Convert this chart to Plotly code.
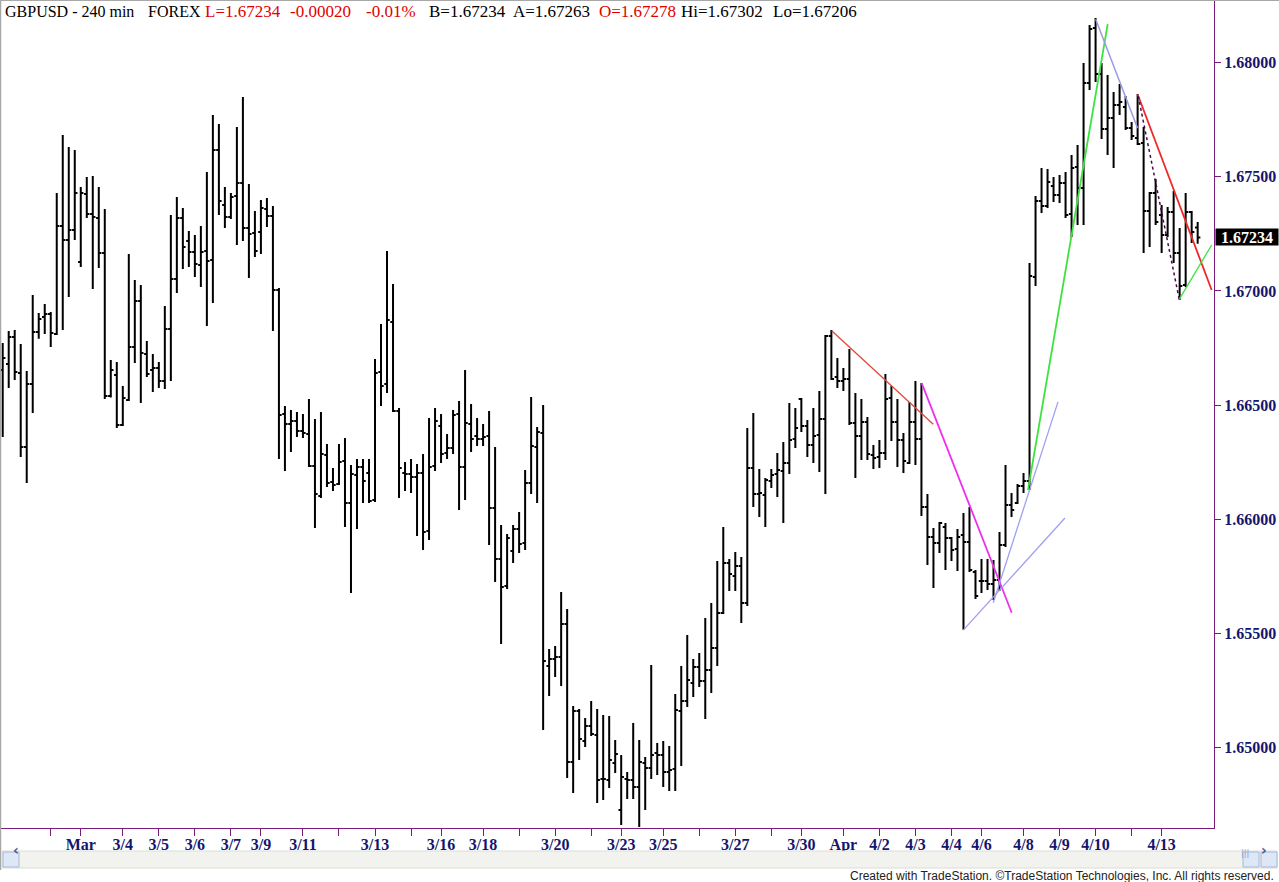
import plotly.graph_objects as go

# ---------------- data (GBPUSD 240-min bars) ----------------
open_ = [1.66654,1.66680,1.66798,1.66641,1.66317,1.66592,1.66820,1.66886,1.66899,1.66811,
 1.67284,1.67223,1.67267,1.67127,1.67424,1.67337,1.67319,1.67166,1.66540,1.66632,
 1.66413,1.66522,1.66754,1.66956,1.66724,1.66654,1.66663,1.66606,1.66833,1.67052,
 1.67319,1.67218,1.67170,1.67113,1.67175,1.67135,1.67617,1.67376,1.67324,1.67415,
 1.67472,1.67275,1.67254,1.67258,1.67359,1.67328,1.67004,1.66461,1.66417,1.66431,
 1.66387,1.66374,1.66233,1.66102,1.66282,1.66163,1.66155,1.66255,1.66072,1.66194,
 1.66229,1.66203,1.66085,1.66645,1.66592,1.66864,1.66474,1.66203,1.66198,1.66185,
 1.66203,1.65949,1.66233,1.66409,1.66290,1.66312,1.66461,1.66229,1.66417,1.66365,
 1.66352,1.66365,1.66050,1.65826,1.65708,1.65861,1.65958,1.65896,1.66159,1.66317,
 1.66378,1.65358,1.65388,1.65397,1.65542,1.64938,1.65161,1.65030,1.65095,1.65056,
 1.64863,1.64859,1.64933,1.64727,1.64863,1.64859,1.64828,1.64933,1.64911,1.64977,
 1.64968,1.64894,1.64907,1.65161,1.65205,1.65283,1.65353,1.65292,1.65340,1.65437,
 1.65590,1.65809,1.65752,1.65796,1.65634,1.66225,1.66111,1.66107,1.66168,1.66198,
 1.66212,1.66247,1.66352,1.66527,1.66409,1.66325,1.66369,1.66439,1.66803,1.66623,
 1.66606,1.66614,1.66422,1.66365,1.66426,1.66282,1.66273,1.66290,1.66531,1.66426,
 1.66347,1.66247,1.66426,1.66352,1.66054,1.65923,1.65896,1.65966,1.65918,1.65870,
 1.65931,1.65901,1.65769,1.65730,1.65730,1.65717,1.65734,1.65888,1.66063,1.66072,
 1.66146,1.66168,1.67061,1.67394,1.67372,1.67459,1.67420,1.67472,1.67337,1.67542,
 1.67451,1.67910,1.68151,1.67950,1.67709,1.67757,1.67814,1.67805,1.67713,1.67669,
 1.67648,1.67350,1.67429,1.67332,1.67245,1.67346,1.67166,1.67026,1.67346,1.67278]

high = [1.66772,1.66825,1.66829,1.66768,1.66649,1.66982,1.66903,1.66943,1.66908,1.67429,
 1.67683,1.67630,1.67617,1.67455,1.67499,1.67503,1.67455,1.67359,1.66698,1.66689,
 1.66584,1.67162,1.67048,1.67026,1.66781,1.66724,1.66689,1.66934,1.67332,1.67411,
 1.67363,1.67262,1.67245,1.67284,1.67521,1.67770,1.67731,1.67455,1.67429,1.67718,
 1.67849,1.67468,1.67350,1.67398,1.67407,1.67372,1.67013,1.66496,1.66479,1.66470,
 1.66461,1.66527,1.66439,1.66470,1.66330,1.66225,1.66330,1.66356,1.66238,1.66264,
 1.66264,1.66264,1.66702,1.66855,1.67175,1.67030,1.66487,1.66251,1.66264,1.66242,
 1.66286,1.66444,1.66487,1.66461,1.66374,1.66479,1.66518,1.66654,1.66505,1.66444,
 1.66417,1.66474,1.66317,1.65975,1.65936,1.65975,1.66032,1.66216,1.66535,1.66404,
 1.66500,1.65432,1.65445,1.65682,1.65607,1.65183,1.65170,1.65130,1.65205,1.65170,
 1.65143,1.65139,1.65034,1.64968,1.64894,1.65108,1.65034,1.64959,1.65362,1.65021,
 1.65030,1.65008,1.65235,1.65358,1.65494,1.65388,1.65415,1.65568,1.65634,1.65818,
 1.65966,1.65826,1.65857,1.65835,1.66400,1.66466,1.66220,1.66181,1.66220,1.66290,
 1.66338,1.66509,1.66487,1.66531,1.66435,1.66487,1.66562,1.66807,1.66829,1.66706,
 1.66663,1.66746,1.66553,1.66527,1.66448,1.66325,1.66347,1.66636,1.66584,1.66527,
 1.66378,1.66514,1.66606,1.66597,1.66111,1.65962,1.65988,1.65984,1.65923,1.65958,
 1.66028,1.66054,1.65778,1.65826,1.65826,1.65822,1.65944,1.66238,1.66115,1.66155,
 1.66203,1.67122,1.67415,1.67538,1.67534,1.67499,1.67507,1.67521,1.67595,1.67639,
 1.67998,1.68164,1.68195,1.67998,1.67945,1.67871,1.67906,1.67853,1.67739,1.67862,
 1.67718,1.67433,1.67490,1.67376,1.67367,1.67437,1.67275,1.67429,1.67350,1.67302]

low = [1.66360,1.66575,1.66610,1.66273,1.66159,1.66466,1.66790,1.66811,1.66754,1.66807,
 1.66829,1.66973,1.67223,1.67105,1.67319,1.67008,1.67100,1.66527,1.66533,1.66400,
 1.66409,1.66518,1.66684,1.66509,1.66623,1.66557,1.66575,1.66571,1.66606,1.66991,
 1.67096,1.67105,1.67061,1.67017,1.66846,1.66947,1.67332,1.67275,1.67315,1.67201,
 1.67218,1.67057,1.67148,1.67162,1.67280,1.66825,1.66264,1.66212,1.66295,1.66360,
 1.66356,1.66229,1.65962,1.66093,1.66142,1.66124,1.66150,1.65966,1.65677,1.65958,
 1.66072,1.66072,1.66076,1.66496,1.66553,1.66470,1.66093,1.66124,1.66115,1.65927,
 1.65866,1.65909,1.66212,1.66247,1.66264,1.66286,1.66041,1.66085,1.66295,1.66321,
 1.66321,1.65888,1.65726,1.65454,1.65695,1.65809,1.65853,1.65866,1.66111,1.66072,
 1.65078,1.65227,1.65310,1.65270,1.64868,1.64802,1.64946,1.65003,1.65051,1.64758,
 1.64771,1.64824,1.64889,1.64662,1.64776,1.64776,1.64653,1.64727,1.64863,1.64881,
 1.64828,1.64811,1.64811,1.64920,1.65178,1.65222,1.65266,1.65126,1.65240,1.65358,
 1.65586,1.65686,1.65686,1.65546,1.65621,1.66054,1.66010,1.65966,1.66137,1.66098,
 1.65984,1.66198,1.66312,1.66382,1.66273,1.66247,1.66207,1.66111,1.66610,1.66575,
 1.66562,1.66413,1.66181,1.66260,1.66260,1.66220,1.66225,1.66260,1.66343,1.66229,
 1.66203,1.66242,1.66238,1.66015,1.65800,1.65699,1.65853,1.65778,1.65818,1.65774,
 1.65516,1.65769,1.65651,1.65677,1.65691,1.65647,1.65686,1.65879,1.66010,1.66067,
 1.66115,1.66128,1.67022,1.67341,1.67363,1.67389,1.67385,1.67319,1.67236,1.67289,
 1.67289,1.67880,1.67915,1.67665,1.67595,1.67538,1.67770,1.67704,1.67661,1.67639,
 1.67166,1.67192,1.67289,1.67166,1.67236,1.67122,1.66960,1.67017,1.67210,1.67206]

close = [1.66706,1.66798,1.66645,1.66317,1.66592,1.66820,1.66877,1.66899,1.66816,1.67284,
 1.67223,1.67267,1.67429,1.67429,1.67337,1.67324,1.67166,1.66540,1.66654,1.66413,
 1.66531,1.66754,1.66956,1.66728,1.66636,1.66663,1.66606,1.66833,1.67052,1.67319,
 1.67192,1.67170,1.67118,1.67170,1.67131,1.67617,1.67394,1.67324,1.67411,1.67472,
 1.67275,1.67249,1.67175,1.67363,1.67328,1.67004,1.66457,1.66417,1.66431,1.66387,
 1.66378,1.66233,1.66111,1.66286,1.66159,1.66150,1.66251,1.66072,1.66198,1.66229,
 1.66168,1.66080,1.66641,1.66584,1.66873,1.66474,1.66225,1.66198,1.66185,1.66203,
 1.65944,1.66229,1.66431,1.66286,1.66312,1.66457,1.66229,1.66422,1.66352,1.66352,
 1.66360,1.66050,1.65826,1.65704,1.65918,1.65958,1.65892,1.66159,1.66321,1.66382,
 1.65380,1.65388,1.65397,1.65542,1.64938,1.65161,1.65038,1.65095,1.65060,1.64859,
 1.64863,1.64946,1.64973,1.64872,1.64859,1.64828,1.64938,1.64911,1.64968,1.64968,
 1.64894,1.64903,1.65165,1.65205,1.65297,1.65353,1.65292,1.65340,1.65437,1.65590,
 1.65809,1.65761,1.65796,1.65634,1.66225,1.66111,1.66115,1.66172,1.66194,1.66216,
 1.66247,1.66347,1.66400,1.66409,1.66325,1.66365,1.66439,1.66803,1.66614,1.66606,
 1.66614,1.66422,1.66365,1.66426,1.66286,1.66268,1.66290,1.66527,1.66426,1.66347,
 1.66255,1.66426,1.66352,1.66054,1.65923,1.65896,1.65984,1.65918,1.65866,1.65923,
 1.65901,1.65778,1.65664,1.65730,1.65717,1.65734,1.65888,1.66063,1.66041,1.66146,
 1.66168,1.67065,1.67394,1.67372,1.67477,1.67420,1.67472,1.67332,1.67538,1.67451,
 1.67910,1.68147,1.67950,1.67709,1.67757,1.67814,1.67827,1.67713,1.67678,1.67643,
 1.67350,1.67429,1.67302,1.67245,1.67346,1.67166,1.67022,1.67346,1.67258,1.67234]

bar_index = list(range(len(close)))

date_tick_bars = [8, 13, 20, 26, 32, 38, 43, 50, 56, 62, 68, 73, 80, 86, 92, 98, 103,
                  110, 116, 122, 128, 133, 140, 146, 152, 158, 163, 170, 176, 182, 188, 193]
date_tick_labels = ["", "Mar", "3/4", "3/5", "3/6", "3/7", "3/9", "3/11", "", "3/13", "",
                    "3/16", "3/18", "", "3/20", "", "3/23", "3/25", "", "3/27", "", "3/30",
                    "Apr", "4/2", "4/3", "4/4", "4/6", "4/8", "4/9", "4/10", "", "4/13"]

price_ticks = [1.650, 1.655, 1.660, 1.665, 1.670, 1.675, 1.680]
price_tick_labels = ["1.65000", "1.65500", "1.66000", "1.66500", "1.67000", "1.67500", "1.68000"]
last_price = 1.67234
last_price_label = "1.67234"

# hand-drawn trendlines (bar index, price)
trend_x0 = [138.05, 153.04, 159.97, 164.96, 170.74, 182.02, 189.00, 189.10, 195.93]
trend_y0 = [1.66826, 1.66596, 1.65515, 1.65635, 1.66128, 1.68189, 1.67861, 1.67853, 1.66963]
trend_x1 = [154.97, 168.03, 176.90, 175.74, 184.02, 189.00, 201.33, 195.93, 201.33]
trend_y1 = [1.66416, 1.65591, 1.66006, 1.66514, 1.68168, 1.67712, 1.67004, 1.66963, 1.67201]
trend_color = ["#e2483a", "#ee30ee", "#a0a0f0", "#a0a0f0", "#3ee23e",
               "#9a9ae6", "#f02828", "#4a0a4a", "#3ee23e"]
trend_dash = ["solid", "solid", "solid", "solid", "solid", "solid", "solid", "dot", "solid"]
trend_width = [1.3, 1.8, 1.3, 1.3, 1.8, 1.5, 1.8, 1.5, 1.3]

# header: text, colour, left pixel, font size
header_parts = [("GBPUSD - 240 min", "#000000", 2.8, 16), ("FOREX", "#000000", 145.5, 16),
                ("L=1.67234", "#e00000", 202.8, 17), ("-0.00020", "#e00000", 287.8, 17),
                ("-0.01%", "#e00000", 363.9, 17), ("B=1.67234", "#000000", 426.7, 17),
                ("A=1.67263", "#000000", 511.0, 17), ("O=1.67278", "#e00000", 597.0, 17),
                ("Hi=1.67302", "#000000", 678.9, 17), ("Lo=1.67206", "#000000", 771.0, 17)]

# ---------------- layout constants ----------------
W, H = 1279, 882
ML, MR, MT, MB = 0, 65, 0, 54
PW, PH = W - ML - MR, H - MT - MB
PURPLE = "#7a1a7a"
NAVY = "#15156e"
SERIF = "Liberation Serif, DejaVu Serif, serif"


def px(xp):
    return xp / PW


def py(yp):
    return 1 - yp / PH


fig = go.Figure()
fig.add_trace(go.Ohlc(
    x=bar_index, open=open_, high=high, low=low, close=close,
    increasing=dict(line=dict(color="black", width=2)),
    decreasing=dict(line=dict(color="black", width=2)),
    tickwidth=0.45, hoverinfo="skip", showlegend=False))

shapes = []
for x0, y0, x1, y1, c, d, w in zip(trend_x0, trend_y0, trend_x1, trend_y1,
                                   trend_color, trend_dash, trend_width):
    shapes.append(dict(type="line", xref="x", yref="y", x0=x0, y0=y0, x1=x1, y1=y1,
                       line=dict(color=c, width=w, dash=d)))

# window frame
shapes.append(dict(type="line", xref="paper", yref="paper", x0=0, x1=1.06,
                   y0=py(0.5), y1=py(0.5), line=dict(color="#a8a8a8", width=1)))
shapes.append(dict(type="line", xref="paper", yref="paper", x0=px(0.5), x1=px(0.5),
                   y0=py(0), y1=py(870), line=dict(color="#a8a8a8", width=1.5)))
# scrollbar
shapes.append(dict(type="rect", xref="paper", yref="paper", x0=px(2), x1=px(1277),
                   y0=py(868), y1=py(851), fillcolor="#f2f2ee",
                   line=dict(color="#dcdcd8", width=1)))
for bx0, bx1 in [(3, 19), (1243, 1259), (1261, 1277)]:
    shapes.append(dict(type="rect", xref="paper", yref="paper", x0=px(bx0), x1=px(bx1),
                       y0=py(867), y1=py(852), fillcolor="#dde7f6",
                       line=dict(color="#a6bad8", width=1)))

annotations = []
for txt, col, xs, fs in header_parts:
    annotations.append(dict(xref="paper", yref="paper", x=px(xs), y=py(12),
                            xanchor="left", yanchor="middle", showarrow=False,
                            text=txt, font=dict(family=SERIF, size=fs, color=col)))
annotations.append(dict(xref="paper", yref="y", x=1.0, y=last_price, xanchor="left",
                        yanchor="middle", showarrow=False, text="<b>" + last_price_label + "</b>",
                        font=dict(family=SERIF, size=16, color="white"),
                        bgcolor="black", width=62, height=16, borderpad=0, xshift=1))
annotations.append(dict(xref="paper", yref="paper", x=px(11), y=py(859.5), showarrow=False,
                        text="<b>‹</b>", font=dict(family="DejaVu Sans", size=14, color="#3a5a9a")))
annotations.append(dict(xref="paper", yref="paper", x=px(1269), y=py(859.5), showarrow=False,
                        text="<b>›</b>", font=dict(family="DejaVu Sans", size=14, color="#3a5a9a")))
annotations.append(dict(xref="paper", yref="paper", x=px(1251), y=py(859.5), showarrow=False,
                        text="|||", font=dict(family="DejaVu Sans", size=8, color="#8aa0c0")))
annotations.append(dict(xref="paper", yref="paper", x=px(1276), y=py(876), xanchor="right",
                        yanchor="middle", showarrow=False,
                        text="Created with TradeStation. ©TradeStation Technologies, Inc. All rights reserved.",
                        font=dict(family="Liberation Sans Narrow, Liberation Sans, sans-serif",
                                  size=12, color="#222222")))

fig.update_layout(
    width=W, height=H,
    margin=dict(l=ML, r=MR, t=MT, b=MB, autoexpand=False),
    paper_bgcolor="white", plot_bgcolor="white",
    showlegend=False,
    shapes=shapes, annotations=annotations,
    xaxis=dict(range=[-0.45, 201.72], rangeslider=dict(visible=False),
               tickmode="array", tickvals=date_tick_bars,
               ticktext=[("<b>" + t + "</b>") if t else "" for t in date_tick_labels],
               showgrid=False, zeroline=False, showline=True, linecolor=PURPLE, linewidth=1,
               ticks="outside", ticklen=7, tickcolor=PURPLE, tickwidth=1,
               ticklabelstandoff=-5,
               tickfont=dict(family=SERIF, size=16, color=NAVY), fixedrange=True),
    yaxis=dict(range=[1.646486, 1.682736], side="right",
               tickmode="array", tickvals=price_ticks,
               ticktext=["<b>" + t + "</b>" for t in price_tick_labels],
               showgrid=False, zeroline=False, showline=True, linecolor=PURPLE, linewidth=1,
               ticks="outside", ticklen=6, tickcolor=PURPLE, tickwidth=1,
               tickfont=dict(family=SERIF, size=16, color=NAVY), fixedrange=True),
)

fig.write_html("out.html", config={"displayModeBar": False},
               post_script="document.body.style.margin='0';document.body.style.overflow='hidden';")
